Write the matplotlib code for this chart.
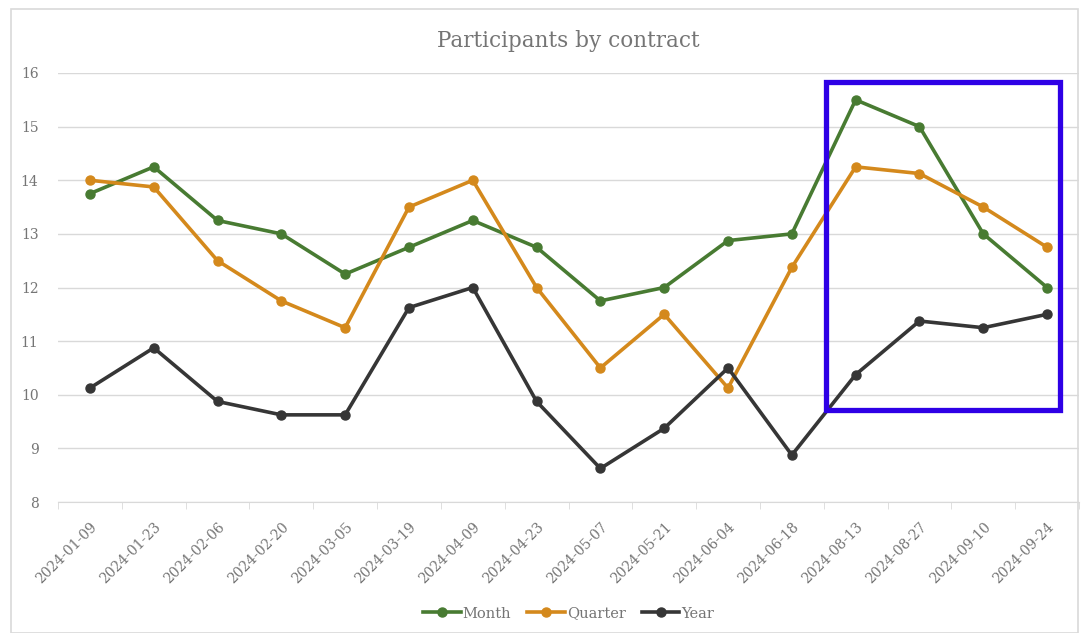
import matplotlib.pyplot as plt
from matplotlib.patches import Rectangle
from matplotlib.transforms import ScaledTranslation

dates = ["2024-01-09", "2024-01-23", "2024-02-06", "2024-02-20", "2024-03-05",
         "2024-03-19", "2024-04-09", "2024-04-23", "2024-05-07", "2024-05-21",
         "2024-06-04", "2024-06-18", "2024-08-13", "2024-08-27", "2024-09-10",
         "2024-09-24"]
month = [13.75, 14.25, 13.25, 13.0, 12.25, 12.75, 13.25, 12.75, 11.75, 12.0,
         12.875, 13.0, 15.5, 15.0, 13.0, 12.0]
quarter = [14.0, 13.875, 12.5, 11.75, 11.25, 13.5, 14.0, 12.0, 10.5, 11.5,
           10.125, 12.375, 14.25, 14.125, 13.5, 12.75]
year = [10.125, 10.875, 9.875, 9.625, 9.625, 11.625, 12.0, 9.875, 8.625, 9.375,
        10.5, 8.875, 10.375, 11.375, 11.25, 11.5]

# highlighted region (x in category units, y in data units)
box_x0, box_x1 = 11.54, 15.2
box_y0, box_y1 = 9.71, 15.83

plt.rcParams['font.family'] = ['DejaVu Serif']
text_gray = "#757575"
grid_gray = "#d9d9d9"

fig = plt.figure(figsize=(10.83, 6.33), dpi=100)
fig.patches.append(Rectangle((11 / 1083, 0), 1067 / 1083, 1 - 9 / 633,
                             transform=fig.transFigure, fill=False,
                             edgecolor="#d9d9d9", linewidth=1.2))
ax = fig.add_axes([58 / 1083, 1 - 502 / 633, 1021 / 1083, 429 / 633])

x = list(range(len(dates)))
series = [("Month", month, "#487b32"), ("Quarter", quarter, "#d4891c"),
          ("Year", year, "#363636")]
for name, vals, col in series:
    ax.plot(x, vals, color=col, linewidth=2.6, marker="o", markersize=6.5,
            label=name, zorder=3)

ax.add_patch(Rectangle((box_x0, box_y0), box_x1 - box_x0, box_y1 - box_y0,
                       fill=False, edgecolor="#2e00e6", linewidth=3.8, zorder=4,
                       clip_on=False))

ax.set_xlim(-0.5, len(dates) - 0.5)
ax.set_ylim(8, 16)
ax.set_yticks(range(8, 17))
ax.yaxis.grid(True, color=grid_gray, linewidth=1)
ax.set_axisbelow(True)
for s in ["top", "right", "left"]:
    ax.spines[s].set_visible(False)
ax.spines["bottom"].set_color(grid_gray)

ax.set_xticks(x)
ax.set_xticklabels(dates, rotation=45, ha="right", rotation_mode="anchor",
                   color=text_gray, fontsize=10)
shift = ScaledTranslation(16 / 100, 0, fig.dpi_scale_trans)
for lab in ax.get_xticklabels():
    lab.set_transform(lab.get_transform() + shift)
ax.set_xticks([i - 0.5 for i in range(len(dates) + 1)], minor=True)
ax.tick_params(axis="x", which="major", length=0, pad=13)
ax.tick_params(axis="x", which="minor", length=5, color=grid_gray)
ax.tick_params(axis="y", length=0, labelcolor=text_gray, labelsize=10, pad=14)

ax.set_title("Participants by contract", color=text_gray, fontsize=15.5, pad=19)
ax.legend(loc="upper center", bbox_to_anchor=(0.5, -0.213), ncol=3, frameon=False,
          fontsize=10.5, labelcolor=text_gray, handlelength=2.6, columnspacing=1.1,
          handletextpad=0.1)

fig.savefig("out.png", dpi=100)
